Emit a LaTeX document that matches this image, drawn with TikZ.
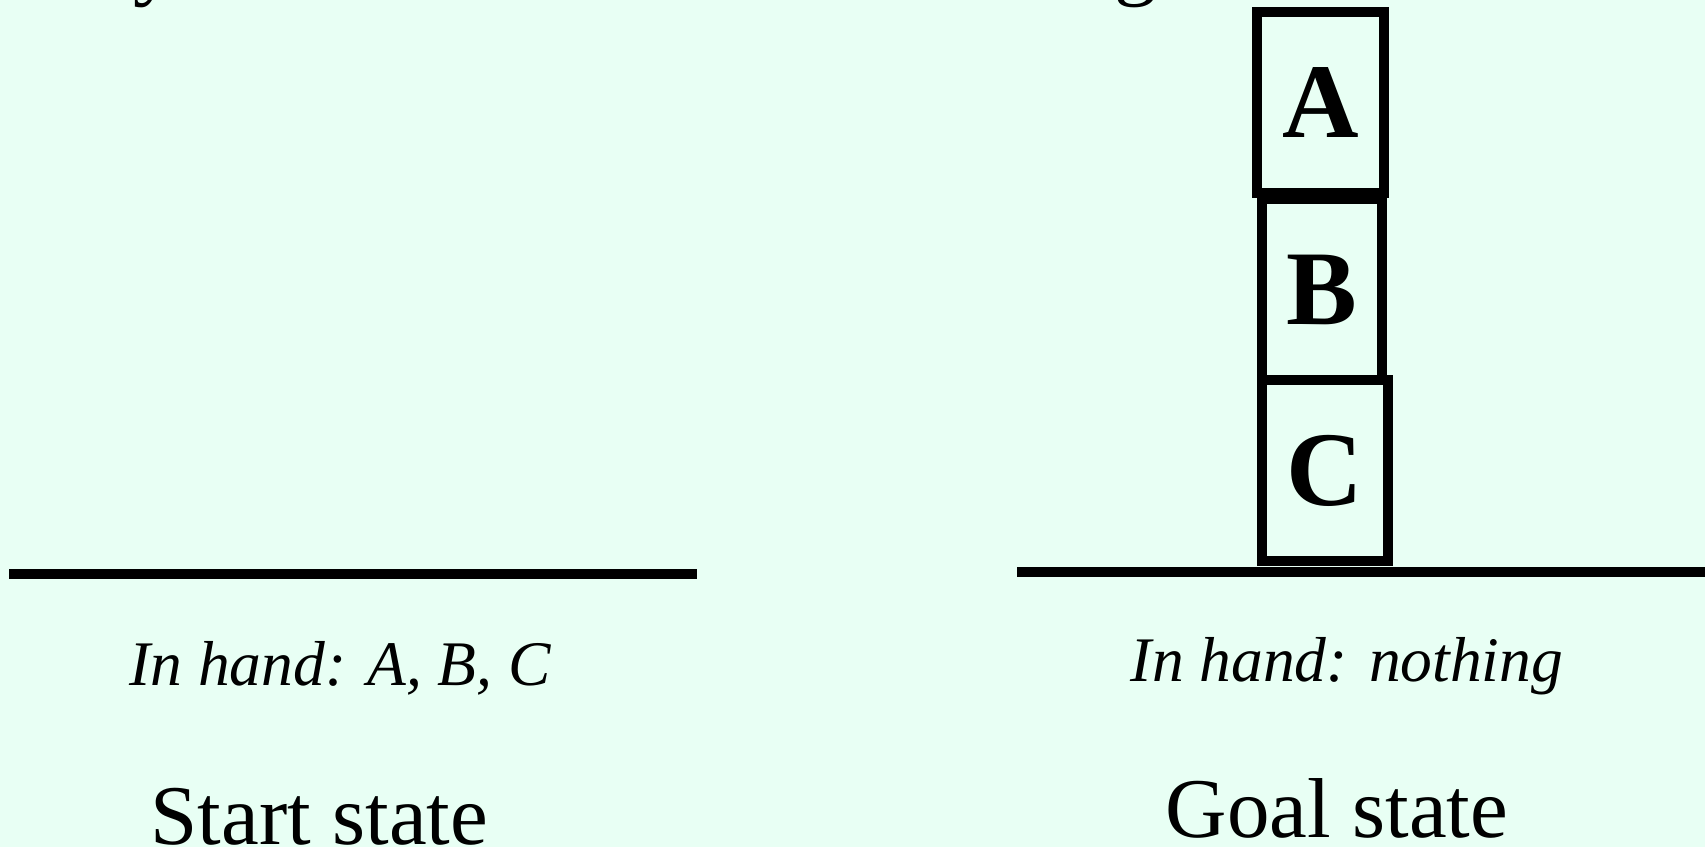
\documentclass[tikz,border=0pt]{standalone}
\usepackage{fontspec}
\setmainfont{Liberation Serif}
\definecolor{bgmint}{RGB}{232,255,244}
\begin{document}
\begin{tikzpicture}[x=1pt,y=-1pt,
  blockbox/.style={draw=black, line width=10pt, minimum width=#1, minimum height=181pt,
    inner sep=0pt, outer sep=0pt, font=\fontsize{106}{106}\selectfont\bfseries},
  ground/.style={draw=black, line width=10pt},
  handtext/.style={anchor=base, inner sep=0pt, font=\fontsize{63.5}{70}\selectfont\itshape},
  statetext/.style={anchor=base, inner sep=0pt, font=\fontsize{85}{90}\selectfont},
  fragtext/.style={anchor=base, inner sep=0pt, font=\fontsize{85}{90}\selectfont}]
\fill[bgmint] (0,0) rectangle (1705,847);
\useasboundingbox (0,0) rectangle (1705,847);
\begin{scope}
  \clip (0,0) rectangle (1705,847);
  \node[fragtext] (fragY) at (155,-10.5) {y};
  \node[fragtext] (fragG) at (1136,-10.5) {g};
\end{scope}
% ground lines
\coordinate (gl1) at (9,574.3);
\coordinate (gl2) at (697.3,574.3);
\coordinate (gr1) at (1017,571.8);
\coordinate (gr2) at (1705,571.8);
\draw[ground] (gl1) -- (gl2);
\draw[ground] (gr1) -- (gr2);
% blocks
\node[blockbox=126.6pt] (boxC) at (1325,470.5) {C};
\node[blockbox=120.6pt] (boxB) at (1322,289.5) {B};
\node[blockbox=126.7pt] (boxA) at (1320.3,102.3) {A};
% texts
\node[handtext] (handL) at (340,685) {In hand: A, B, C};
\node[handtext] (handR) at (1347,681.7) {In hand: nothing};
\node[statetext] (startL) at (319.5,844) {Start state};
\node[statetext] (goalR) at (1337,837) {Goal state};
\end{tikzpicture}
\end{document}
